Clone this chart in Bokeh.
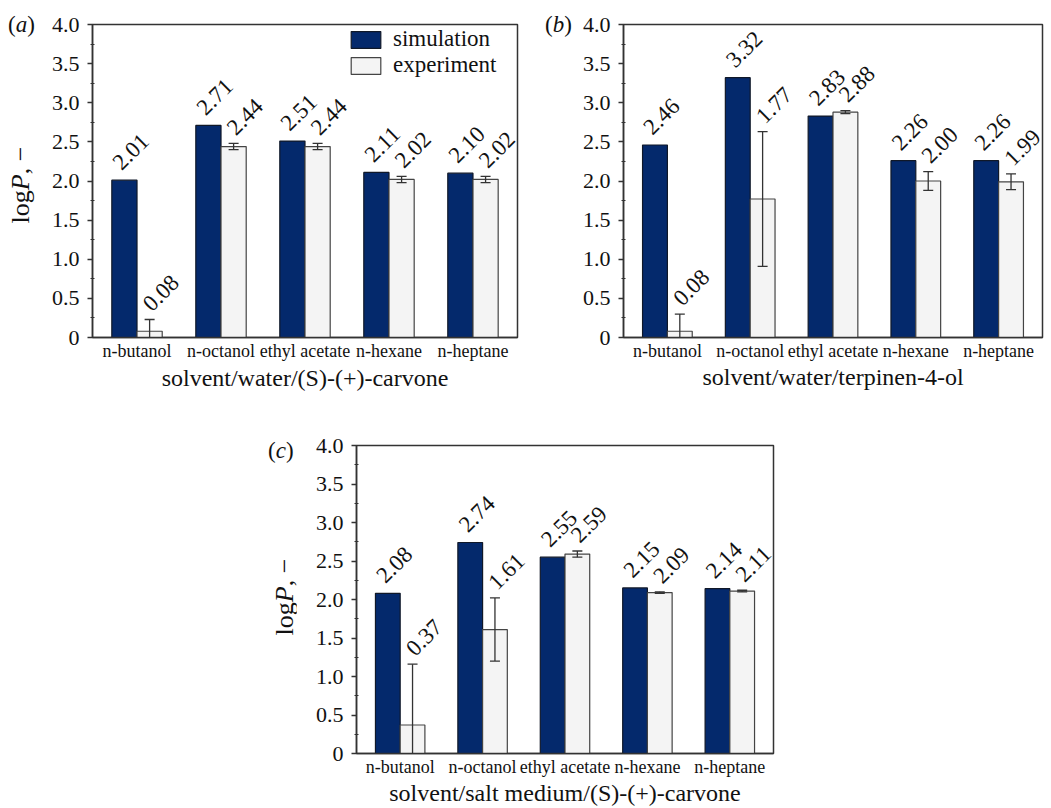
import numpy as np
from bokeh.plotting import figure
from bokeh.models import (Range1d, FixedTicker, CustomJSTickFormatter,
                          ColumnDataSource, Legend, LegendItem, Spacer, Div)
from bokeh.layouts import column, row
from bokeh.core.properties import value
from bokeh.embed import file_html
from bokeh.resources import INLINE

# ---------------- data ----------------
solvents = ["n-butanol", "n-octanol", "ethyl acetate", "n-hexane", "n-heptane"]

sim_a = [2.01, 2.71, 2.51, 2.11, 2.10]
exp_a = [0.08, 2.44, 2.44, 2.02, 2.02]
err_a = [0.15, 0.04, 0.04, 0.04, 0.04]

sim_b = [2.46, 3.32, 2.83, 2.26, 2.26]
exp_b = [0.08, 1.77, 2.88, 2.00, 1.99]
err_b = [0.22, 0.86, 0.02, 0.12, 0.10]

sim_c = [2.08, 2.74, 2.55, 2.15, 2.14]
exp_c = [0.37, 1.61, 2.59, 2.09, 2.11]
err_c = [0.79, 0.41, 0.04, 0.01, 0.01]

x_titles = ["solvent/water/(S)-(+)-carvone",
            "solvent/water/terpinen-4-ol",
            "solvent/salt medium/(S)-(+)-carvone"]
panel_letters = ["a", "b", "c"]
y_label_html = "log<i>P</i>, \u2212"
y_major = [0, 0.5, 1.0, 1.5, 2.0, 2.5, 3.0, 3.5, 4.0]
y_minor = [0.25, 0.75, 1.25, 1.75, 2.25, 2.75, 3.25, 3.75]
series_names = ["simulation", "experiment"]

# ---------------- style ----------------
FONT = "Liberation Serif"
NAVY = "#04296c"
LIGHT = "#f4f4f4"
EDGE = "#333333"
TXT = "#111111"


def letter_div(letter, width, height, left):
    html = (f'<div style="position:relative;width:{width}px;height:{height}px;">'
            f'<span style="position:absolute;left:{left}px;top:{height/2}px;'
            f'transform:translateY(-50%);white-space:nowrap;'
            f"font-family:'{FONT}';font-size:23px;line-height:1;color:{TXT};\">"
            f'(<i>{letter}</i>)</span></div>')
    return Div(text=html, width=width, height=height, margin=0)


def ylabel_div(width, height, cx, cy):
    html = (f'<div style="position:relative;width:{width}px;height:{height}px;">'
            f'<span style="position:absolute;left:{cx}px;top:{cy}px;'
            f'transform:translate(-50%,-50%) rotate(-90deg);white-space:nowrap;'
            f"font-family:'{FONT}';font-size:26px;line-height:1;color:{TXT};\">"
            f'{y_label_html}</span></div>')
    return Div(text=html, width=width, height=height, margin=0)


def style_legend(lg):
    lg.margin = 0
    lg.padding = 0
    lg.spacing = 0
    lg.glyph_width = 37
    lg.glyph_height = 21
    lg.label_height = 26
    lg.label_standoff = 9
    lg.label_text_font = FONT
    lg.label_text_font_size = "23px"
    lg.label_text_color = TXT
    lg.border_line_alpha = 0
    lg.background_fill_alpha = 0


def make_panel(sim, exp, err, xtitle, width, height, bl, bt, br, bb,
               legend=False, title_standoff=5):
    p = figure(width=width, height=height, x_range=Range1d(-0.53, 4.53),
               y_range=Range1d(0, 4), output_backend="svg", toolbar_location=None,
               min_border_left=bl, min_border_top=bt, min_border_right=br,
               min_border_bottom=bb)
    p.xgrid.visible = False
    p.ygrid.visible = False
    p.outline_line_color = EDGE
    p.outline_line_width = 1.5
    p.outline_line_alpha = 1.0

    idx = np.arange(len(solvents))
    sim = np.array(sim)
    exp = np.array(exp)
    err = np.array(err)
    src = ColumnDataSource(dict(
        x_sim=idx - 0.15, x_exp=idx + 0.15, x_sim_l=idx - 0.3, x_exp_l=idx * 1.0,
        sim=sim, exp=exp, lo=exp - err, hi=exp + err,
        sim_txt=[f"{v:.2f}" for v in sim], exp_txt=[f"{v:.2f}" for v in exp]))

    r1 = p.vbar(x="x_sim", top="sim", width=0.3, source=src, fill_color=NAVY,
                line_color="#101828", line_width=1.2)
    r2 = p.vbar(x="x_exp", top="exp", width=0.3, source=src, fill_color=LIGHT,
                line_color="#444444", line_width=1.2)
    p.segment(x0="x_exp", y0="lo", x1="x_exp", y1="hi", source=src,
              line_color=EDGE, line_width=1.3)
    p.scatter(x="x_exp", y="hi", source=src, marker="dash", size=10,
              line_color=EDGE, line_width=1.3)
    p.scatter(x="x_exp", y="lo", source=src, marker="dash", size=10,
              line_color=EDGE, line_width=1.3)

    p.text(x="x_sim_l", y="sim", text="sim_txt", source=src, angle=45,
           angle_units="deg", text_align="left", text_baseline="bottom",
           x_offset=10, y_offset=-9, text_font=value(FONT),
           text_font_size="23px", text_color=TXT)
    p.text(x="x_exp_l", y="hi", text="exp_txt", source=src, angle=45,
           angle_units="deg", text_align="left", text_baseline="bottom",
           x_offset=15, y_offset=-7, text_font=value(FONT),
           text_font_size="23px", text_color=TXT)

    # y axis
    ya = p.yaxis[0]
    ya.ticker = FixedTicker(ticks=y_major, minor_ticks=y_minor)
    ya.formatter = CustomJSTickFormatter(code="return tick == 0 ? '0' : tick.toFixed(1);")
    ya.major_label_text_font = FONT
    ya.major_label_text_font_size = "22px"
    ya.major_label_text_color = TXT
    ya.major_label_standoff = 8
    ya.major_tick_out = 5
    ya.major_tick_in = 0
    ya.minor_tick_out = 2
    ya.minor_tick_in = 2
    ya.axis_line_color = EDGE
    ya.axis_line_width = 1.5
    ya.major_tick_line_color = EDGE
    ya.major_tick_line_width = 1.3
    ya.minor_tick_line_color = EDGE
    ya.minor_tick_line_width = 1.2

    # x axis
    xa = p.xaxis[0]
    xa.ticker = FixedTicker(ticks=list(range(len(solvents))), minor_ticks=[])
    xa.formatter = CustomJSTickFormatter(args=dict(names=solvents),
                                         code="return names[Math.round(tick)];")
    xa.major_label_text_font = FONT
    xa.major_label_text_font_size = "18px"
    xa.major_label_text_color = TXT
    xa.major_label_standoff = 3
    xa.major_tick_out = 0
    xa.major_tick_in = 0
    xa.major_tick_line_color = None
    xa.minor_tick_line_color = None
    xa.axis_line_color = EDGE
    xa.axis_line_width = 1.5
    xa.axis_label = xtitle
    xa.axis_label_text_font = FONT
    xa.axis_label_text_font_size = "24px"
    xa.axis_label_text_font_style = "normal"
    xa.axis_label_text_color = TXT
    xa.axis_label_standoff = title_standoff

    if legend:
        # two single-row legends so the rows can sit close together
        lg1 = Legend(items=[LegendItem(label=series_names[0], renderers=[r1])],
                     location=(255, 285))
        lg2 = Legend(items=[LegendItem(label=series_names[1], renderers=[r2])],
                     location=(255, 259))
        style_legend(lg1)
        style_legend(lg2)
        p.add_layout(lg1)
        p.add_layout(lg2)
    return p


# row 1: panel (a) frame x 92..517, y 24..337 ; panel (b) frame x 623..1042
pa = make_panel(sim_a, exp_a, err_a, x_titles[0], width=484, height=400,
                bl=56, bt=24, br=3, bb=63, legend=True, title_standoff=1)
pb = make_panel(sim_b, exp_b, err_b, x_titles[1], width=471, height=400,
                bl=48, bt=24, br=4, bb=63, legend=False, title_standoff=0)
# row 2: panel (c) frame x 356..773, y 445..758
pc = make_panel(sim_c, exp_c, err_c, x_titles[2], width=480, height=408,
                bl=60, bt=45, br=3, bb=50, legend=False, title_standoff=0)

col_a = column(letter_div(panel_letters[0], 36, 48, 8),
               ylabel_div(36, 352, 21, 137), spacing=0)
col_b = column(letter_div(panel_letters[1], 55, 48, 25), spacing=0)
col_c = column(letter_div(panel_letters[2], 36, 100, 8),
               ylabel_div(36, 308, 25, 97), spacing=0)

layout = column(row(col_a, pa, col_b, pb, spacing=0),
                row(Spacer(width=260, height=10), col_c, pc, spacing=0),
                spacing=0)

open("out.html", "w").write(file_html(layout, INLINE))
